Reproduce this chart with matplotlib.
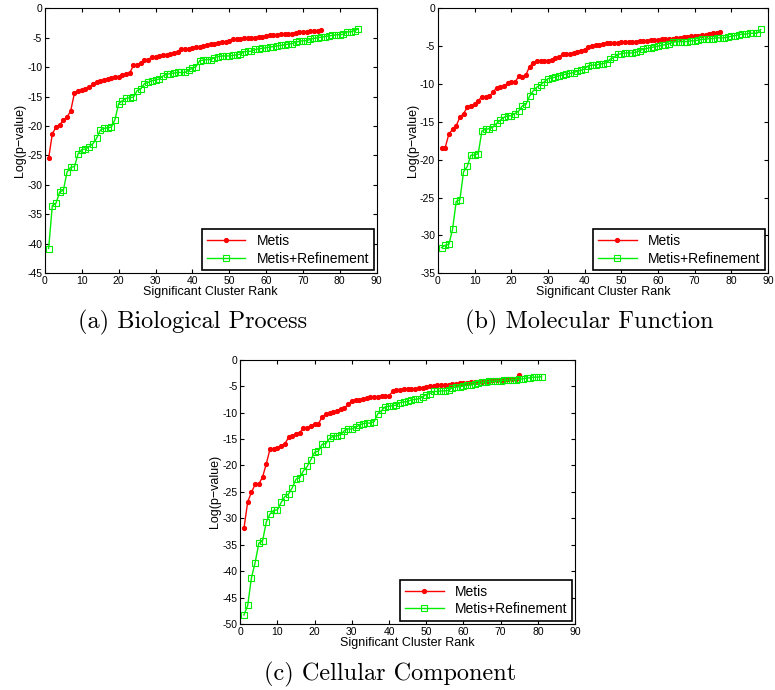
import matplotlib
matplotlib.use("Agg")
import matplotlib.pyplot as plt
import numpy as np

plt.rcParams['font.family'] = ['Liberation Sans', 'DejaVu Sans']
plt.rcParams['axes.unicode_minus'] = False

# (a) Biological Process
bp_metis = [-25.5, -21.3, -20.2, -19.8, -19.0, -18.5, -17.4, -14.4, -14.0, -13.9,
            -13.7, -13.4, -12.9, -12.6, -12.3, -12.2, -12.0, -11.9, -11.7, -11.6,
            -11.4, -11.2, -11.0, -9.7, -9.7, -9.3, -8.7, -8.7, -8.3, -8.2,
            -8.1, -8.0, -8.0, -7.8, -7.6, -7.4, -7.0, -6.9, -6.9, -6.7,
            -6.6, -6.5, -6.4, -6.2, -6.1, -6.0, -5.9, -5.8, -5.7, -5.6,
            -5.2, -5.2, -5.2, -5.1, -5.1, -5.0, -5.0, -4.9, -4.8, -4.7,
            -4.6, -4.6, -4.5, -4.4, -4.4, -4.3, -4.3, -4.2, -4.1, -4.0,
            -3.95, -3.9, -3.85, -3.8, -3.75]
bp_refined = [-40.8, -33.5, -33.1, -31.2, -30.9, -27.8, -27.0, -26.9, -24.7, -24.0,
              -23.9, -23.5, -23.0, -22.1, -20.7, -20.4, -20.3, -20.2, -18.9, -16.2,
              -15.7, -15.3, -15.2, -15.1, -14.0, -13.7, -12.8, -12.6, -12.3, -12.2,
              -12.0, -11.5, -11.2, -11.1, -11.0, -10.9, -10.9, -10.9, -10.5, -10.2,
              -9.9, -8.9, -8.8, -8.7, -8.7, -8.4, -8.2, -8.1, -8.1, -8.1,
              -8.0, -7.9, -7.8, -7.4, -7.3, -7.3, -7.0, -6.9, -6.8, -6.7,
              -6.6, -6.5, -6.4, -6.3, -6.2, -6.1, -6.0, -5.8, -5.6, -5.5,
              -5.5, -5.3, -5.1, -5.0, -4.9, -4.8, -4.7, -4.6, -4.5, -4.5,
              -4.4, -4.0, -4.0, -3.8, -3.5]

# (b) Molecular Function
mf_metis = [-18.5, -18.4, -16.6, -16.0, -15.5, -14.4, -13.9, -13.1, -12.9, -12.7,
            -12.2, -11.7, -11.7, -11.6, -11.1, -10.5, -10.4, -10.3, -9.9, -9.8,
            -9.8, -9.0, -9.1, -8.8, -7.7, -7.2, -7.0, -6.9, -6.9, -6.9,
            -6.8, -6.6, -6.4, -6.1, -6.0, -6.0, -5.9, -5.8, -5.6, -5.5,
            -5.1, -5.0, -4.9, -4.8, -4.7, -4.6, -4.6, -4.6, -4.6, -4.5,
            -4.5, -4.5, -4.4, -4.4, -4.3, -4.3, -4.3, -4.2, -4.2, -4.2,
            -4.1, -4.1, -4.0, -4.0, -3.9, -3.9, -3.8, -3.8, -3.7, -3.7,
            -3.6, -3.5, -3.5, -3.4, -3.2, -3.2, -3.1]
mf_refined = [-31.6, -31.3, -31.2, -29.2, -25.5, -25.3, -21.6, -20.9, -19.4, -19.4,
              -19.2, -16.2, -16.0, -15.9, -15.7, -15.2, -14.8, -14.4, -14.2, -14.2,
              -13.9, -13.6, -12.9, -12.7, -11.6, -10.9, -10.4, -10.1, -9.7, -9.3,
              -9.2, -9.1, -8.9, -8.8, -8.7, -8.6, -8.5, -8.3, -8.2, -8.0,
              -7.6, -7.5, -7.5, -7.4, -7.3, -7.2, -6.7, -6.5, -6.1, -6.0,
              -5.9, -5.9, -5.9, -5.8, -5.6, -5.4, -5.3, -5.2, -5.1, -5.0,
              -4.9, -4.8, -4.7, -4.5, -4.4, -4.4, -4.4, -4.4, -4.3, -4.3,
              -4.2, -4.1, -4.1, -4.0, -4.0, -3.9, -3.9, -3.9, -3.8, -3.7,
              -3.6, -3.5, -3.4, -3.4, -3.3, -3.3, -3.3, -2.8]

# (c) Cellular Component
cc_metis = [-31.9, -26.9, -25.1, -23.6, -23.5, -22.2, -19.7, -16.9, -16.9, -16.8,
            -16.3, -15.9, -14.7, -14.5, -14.0, -13.8, -12.9, -12.9, -12.6, -12.2,
            -12.2, -10.8, -10.3, -10.1, -9.9, -9.7, -9.3, -9.2, -8.4, -7.8,
            -7.6, -7.6, -7.4, -7.3, -7.1, -7.0, -7.0, -6.9, -6.9, -6.8,
            -6.0, -5.8, -5.8, -5.6, -5.6, -5.5, -5.5, -5.4, -5.3, -5.1,
            -5.0, -4.9, -4.8, -4.8, -4.7, -4.7, -4.6, -4.6, -4.5, -4.5,
            -4.4, -4.3, -4.3, -4.2, -4.2, -4.1, -4.0, -3.9, -3.9, -3.8,
            -3.8, -3.7, -3.7, -3.6, -2.9]
cc_refined = [-48.3, -46.5, -41.3, -38.4, -34.7, -34.3, -30.7, -29.2, -28.5, -28.4,
              -27.0, -25.9, -25.4, -24.2, -22.6, -22.3, -21.0, -20.2, -18.9, -17.5,
              -17.3, -16.0, -15.9, -14.9, -14.5, -14.4, -14.2, -13.4, -13.1, -13.1,
              -12.8, -12.4, -12.1, -12.0, -12.0, -11.7, -10.2, -9.6, -8.9, -8.8,
              -8.7, -8.6, -8.1, -8.0, -7.9, -7.6, -7.5, -7.4, -7.0, -6.6,
              -6.4, -6.0, -6.0, -5.9, -5.9, -5.8, -5.3, -5.2, -5.1, -5.0,
              -4.8, -4.8, -4.6, -4.5, -4.3, -4.2, -4.1, -4.1, -4.0, -4.0,
              -3.9, -3.9, -3.8, -3.8, -3.7, -3.6, -3.5, -3.4, -3.3, -3.3,
              -3.2]

panels = [
    ([0.058, 0.604, 0.428, 0.384], bp_metis, bp_refined, -45, "(a) Biological Process", (0.249, 0.533)),
    ([0.565, 0.604, 0.426, 0.384], mf_metis, mf_refined, -35, "(b) Molecular Function", (0.760, 0.533)),
    ([0.310, 0.0957, 0.432, 0.383], cc_metis, cc_refined, -50, "(c) Cellular Component", (0.503, 0.023)),
]

fig = plt.figure(figsize=(7.75, 6.9), dpi=100)

for rect, metis, refined, ymin, caption, cap_xy in panels:
    ax = fig.add_axes(rect)
    ax.plot(np.arange(1, len(metis) + 1), metis, color='red', marker='.',
            markersize=5.5, linewidth=1, label='Metis')
    ax.plot(np.arange(1, len(refined) + 1), refined, color='#00ee00', marker='s',
            markersize=4, markerfacecolor='none', markeredgewidth=0.8,
            linewidth=1, label='Metis+Refinement')
    ax.set_xlim(0, 90)
    ax.set_ylim(ymin, 0)
    ax.set_xticks(range(0, 91, 10))
    ax.set_yticks(range(ymin, 1, 5))
    ax.tick_params(direction='in', top=True, right=True, labelsize=7.5,
                   length=3, pad=2)
    ax.set_xlabel("Significant Cluster Rank", fontsize=9, labelpad=0)
    ax.set_ylabel("Log(p\u2212value)", fontsize=9, labelpad=1)
    leg = ax.legend(loc='lower right', fontsize=10, fancybox=False,
                    framealpha=1, edgecolor='black', borderaxespad=0.2,
                    handlelength=2.8, borderpad=0.35, labelspacing=0.25)
    leg.get_frame().set_linewidth(1.2)
    fig.text(cap_xy[0], cap_xy[1], caption, family='cmr10', fontsize=17.5,
             ha='center', va='center')

fig.savefig("out.png", dpi=100)
